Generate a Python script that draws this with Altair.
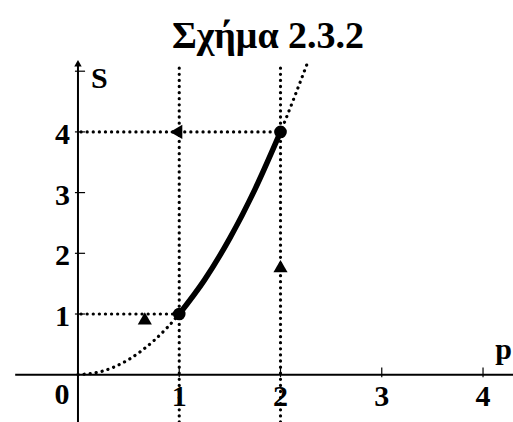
import altair as alt
import pandas as pd

# S = p^2 sampled along the dotted parabola and along the solid segment 1 <= p <= 2
curve_p = [0.0, 0.25, 0.5, 0.75, 1.0, 1.25, 1.5, 1.75, 2.0, 2.27]
curve_s = [0.0, 0.0625, 0.25, 0.5625, 1.0, 1.5625, 2.25, 3.0625, 4.0, 5.1529]
seg_p = [1.0, 1.25, 1.5, 1.75, 2.0]
seg_s = [1.0, 1.5625, 2.25, 3.0625, 4.0]

# marked points
point_p = [1, 2]
point_s = [1, 4]

# direction arrows
arrow_p = [0.66, 2.0, 0.97]
arrow_s = [0.93, 1.79, 4.0]
arrow_shape = ["triangle-up", "triangle-up", "triangle-left"]

# axis ticks and labels
x_ticks = [1, 2, 3, 4]
y_ticks = [1, 2, 3, 4, 5]
y_labels = [1, 2, 3, 4]

X_DOM = [-0.770, 4.296]
Y_DOM = [-0.779, 6.173]
FONT = "Liberation Serif, Times New Roman, serif"

xs = alt.Scale(domain=X_DOM, nice=False, zero=False)
ys = alt.Scale(domain=Y_DOM, nice=False, zero=False)


def X(field="p"):
    return alt.X(f"{field}:Q", scale=xs, axis=None)


def Y(field="s"):
    return alt.Y(f"{field}:Q", scale=ys, axis=None)


dot = dict(strokeDash=[0.1, 6], strokeCap="round", strokeWidth=3.2, color="black")

# axes
x_axis = alt.Chart(pd.DataFrame({"p": [-0.62], "p2": [4.3], "s": [0]})).mark_rule(
    color="black", strokeWidth=2
).encode(x=X(), x2="p2:Q", y=Y())
y_axis = alt.Chart(pd.DataFrame({"p": [0], "s": [-0.78], "s2": [5.15]})).mark_rule(
    color="black", strokeWidth=2
).encode(x=X(), y=Y(), y2="s2:Q")
y_head = alt.Chart(pd.DataFrame({"p": [0], "s": [5.13]})).mark_point(
    shape="triangle-up", filled=True, color="black", size=55, opacity=1
).encode(x=X(), y=Y())

xt = pd.DataFrame({"p": x_ticks, "s": [-0.04] * 4, "s2": [0.12] * 4})
x_tick_marks = alt.Chart(xt).mark_rule(color="black", strokeWidth=1.2).encode(
    x=X(), y=Y(), y2="s2:Q"
)
yt = pd.DataFrame({"s": y_ticks, "p": [-0.03] * 5, "p2": [0.07] * 5})
y_tick_marks = alt.Chart(yt).mark_rule(color="black", strokeWidth=1.2).encode(
    x=X(), x2="p2:Q", y=Y()
)

lab_style = dict(font=FONT, fontWeight="bold", fontSize=30, color="black")
x_labels = alt.Chart(pd.DataFrame({"p": x_ticks, "s": [0] * 4,
                                   "t": [str(v) for v in x_ticks]})).mark_text(
    align="center", baseline="alphabetic", dy=31, **lab_style
).encode(x=X(), y=Y(), text="t:N")
# the origin label sits left of the vertical axis
zero_label = alt.Chart(pd.DataFrame({"p": [0], "s": [0], "t": ["0"]})).mark_text(
    align="center", baseline="alphabetic", dx=-16, dy=29, **lab_style
).encode(x=X(), y=Y(), text="t:N")
y_label_marks = alt.Chart(pd.DataFrame({"p": [0] * 4, "s": y_labels,
                                        "t": [str(v) for v in y_labels]})).mark_text(
    align="right", baseline="middle", dx=-8, dy=3, **lab_style
).encode(x=X(), y=Y(), text="t:N")

s_name = alt.Chart(pd.DataFrame({"p": [0], "s": [4.72], "t": ["S"]})).mark_text(
    align="left", baseline="alphabetic", dx=13, font=FONT, fontWeight="bold",
    fontSize=30, color="black"
).encode(x=X(), y=Y(), text="t:N")
p_name = alt.Chart(pd.DataFrame({"p": [4.12], "s": [0], "t": ["p"]})).mark_text(
    align="left", baseline="alphabetic", dy=-16, font=FONT, fontWeight="bold",
    fontSize=30, color="black"
).encode(x=X(), y=Y(), text="t:N")

# dotted guides
vguides = alt.Chart(pd.DataFrame({"p": point_p, "s": [5.05, 5.05], "s2": [-0.8, -0.8]})).mark_rule(
    **dot
).encode(x=X(), y=Y(), y2="s2:Q")
hguides = alt.Chart(pd.DataFrame({"p": [0.03, 0.03], "p2": point_p, "s": point_s})).mark_rule(
    **dot
).encode(x=X(), x2="p2:Q", y=Y())

dotted_curve = alt.Chart(pd.DataFrame({"p": curve_p, "s": curve_s})).mark_line(
    interpolate="monotone", **dot
).encode(x=X(), y=Y(), order="p:Q")
solid_curve = alt.Chart(pd.DataFrame({"p": seg_p, "s": seg_s})).mark_line(
    interpolate="monotone", color="black", strokeWidth=5.5, strokeCap="round"
).encode(x=X(), y=Y(), order="p:Q")

points = alt.Chart(pd.DataFrame({"p": point_p, "s": point_s})).mark_circle(
    color="black", size=160, opacity=1
).encode(x=X(), y=Y())

arrows = alt.Chart(pd.DataFrame({"p": arrow_p, "s": arrow_s, "shape": arrow_shape})).mark_point(
    filled=True, color="black", size=200, opacity=1
).encode(
    x=X(), y=Y(),
    shape=alt.Shape("shape:N", scale=None, legend=None),
)

title = alt.Chart(pd.DataFrame({"t": ["Σχήμα 2.3.2"]})).mark_text(
    align="center", baseline="alphabetic", font=FONT, fontWeight="bold", fontSize=38,
    color="black"
).encode(x=alt.value(268), y=alt.value(48), text="t:N")

chart = alt.layer(
    vguides, hguides, dotted_curve, x_axis, y_axis, y_head, x_tick_marks, y_tick_marks,
    solid_curve, points, arrows, x_labels, zero_label, y_label_marks, s_name, p_name, title,
).properties(
    width=513, height=422, autosize=alt.AutoSizeParams(type="none"), padding=0,
    background="white",
).configure_view(stroke=None)

chart.save("out.html", embed_options={"renderer": "svg", "actions": False})
